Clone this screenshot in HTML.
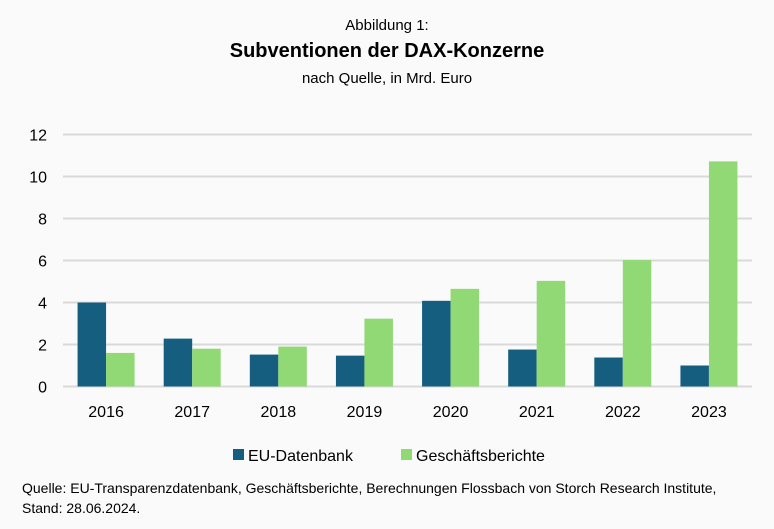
<!DOCTYPE html>
<html><head><meta charset="utf-8"><style>
body{margin:0;background:#fafafa;font-family:"Liberation Sans",sans-serif;}
#wrap{position:relative;width:774px;height:529px;background:#fafafa;overflow:hidden}
.t{position:absolute;left:0;width:774px;text-align:center;color:#000}
</style></head><body>
<div id="wrap">
<div class="t" style="top:17px;font-size:15px">Abbildung 1:</div>
<div class="t" style="top:40px;font-size:20px;font-weight:bold">Subventionen der DAX-Konzerne</div>
<div class="t" style="top:70px;font-size:15px">nach Quelle, in Mrd. Euro</div>
<svg id="c" width="774" height="529" style="position:absolute;left:0;top:0"></svg>
<div style="position:absolute;left:22px;top:478px;font-size:14px;line-height:20px;color:#000">Quelle: EU-Transparenzdatenbank, Geschäftsberichte, Berechnungen Flossbach von Storch Research Institute,<br>Stand: 28.06.2024.</div>
</div>
<script>
const categories=["2016","2017","2018","2019","2020","2021","2022","2023"];
const euValues=[4.0,2.28,1.52,1.47,4.08,1.76,1.38,1.0];
const gbValues=[1.6,1.8,1.9,3.23,4.65,5.03,6.02,10.72];
const yTicks=[0,2,4,6,8,10,12];
const NS="http://www.w3.org/2000/svg";
const svg=document.getElementById("c");
const x0=63,x1=752,yBase=386.5,yTop=134.5,yMax=12;
const band=(x1-x0)/categories.length;
const bw=28.5;
const y=v=>yBase-(v/yMax)*(yBase-yTop);
const xc=i=>x0+band*(i+0.5);
function mk(tag,attrs){const e=document.createElementNS(NS,tag);for(const k in attrs)e.setAttribute(k,attrs[k]);svg.appendChild(e);return e;}
yTicks.forEach(t=>{
 const l=mk("line",{x1:x0,x2:x1,y1:y(t),y2:y(t),stroke:"#d9d9d9","stroke-width":2});
 
 
 const tx=mk("text",{x:47,y:y(t)+6,"text-anchor":"end","font-size":16,fill:"#000","font-family":"Liberation Sans, sans-serif"});
 tx.textContent=t;
 
 
});
categories.forEach((c,i)=>{
 const a=mk("rect",{x:xc(i)-bw,y:y(euValues[i]),width:bw,height:yBase-y(euValues[i]),fill:"#165e80"});
 
 
 const b=mk("rect",{x:xc(i),y:y(gbValues[i]),width:bw,height:yBase-y(gbValues[i]),fill:"#90d975"});
 
 
 const tx=mk("text",{x:xc(i),y:417,"text-anchor":"middle","font-size":16,fill:"#000","font-family":"Liberation Sans, sans-serif"});
 tx.textContent=c;
 
 
});
[[233,"#165e80","EU-Datenbank"],[401,"#90d975","Geschäftsberichte"]].forEach(([lx,col,lab])=>{
 const r=mk("rect",{x:lx,y:449,width:11,height:11,fill:col});
 
 
 const t=mk("text",{x:lx+15,y:461,"font-size":16,fill:"#000","font-family":"Liberation Sans, sans-serif"});
 t.textContent=lab;
 
 
});
</script>
</body></html>
